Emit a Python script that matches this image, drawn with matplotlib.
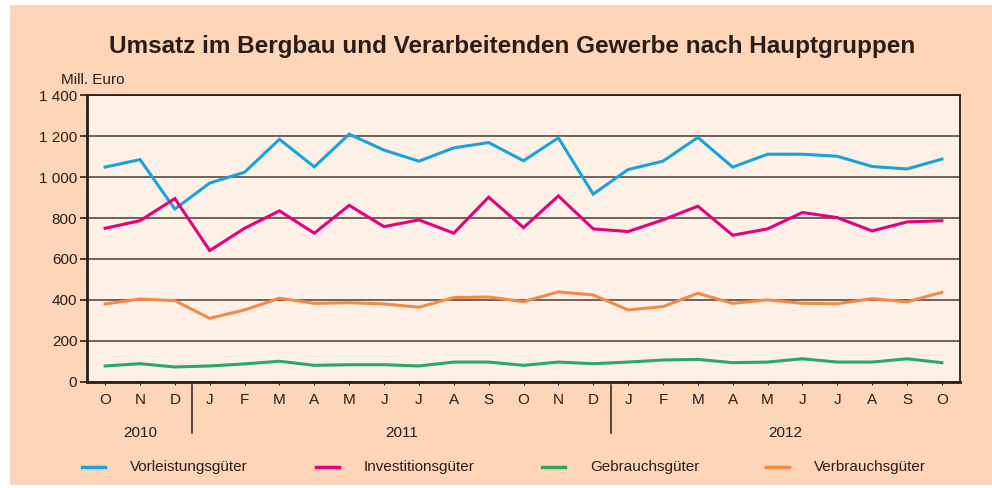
import matplotlib

matplotlib.use("Agg")
import matplotlib.pyplot as plt
from matplotlib.lines import Line2D
from matplotlib.patches import Rectangle

plt.rcParams["font.family"] = ["Liberation Sans", "DejaVu Sans"]

# Monthly turnover Oct 2010 - Oct 2012, million euro
months = ["O", "N", "D",
          "J", "F", "M", "A", "M", "J", "J", "A", "S", "O", "N", "D",
          "J", "F", "M", "A", "M", "J", "J", "A", "S", "O"]
years = ["2010", "2011", "2012"]
year_spans = [(0, 2), (3, 14), (15, 24)]

vorleistung = [1049, 1086, 844, 971, 1024, 1185, 1050, 1210, 1132, 1078, 1143, 1169,
               1080, 1192, 917, 1037, 1078, 1194, 1049, 1112, 1112, 1102, 1052, 1040, 1088]
investition = [750, 787, 895, 641, 750, 835, 726, 862, 758, 791, 726, 902,
               753, 908, 747, 734, 791, 858, 716, 747, 827, 802, 737, 781, 787]
gebrauch = [77, 88, 72, 77, 87, 100, 80, 83, 83, 77, 96, 96,
            80, 96, 88, 96, 106, 109, 93, 96, 112, 96, 96, 112, 93]
verbrauch = [380, 404, 396, 310, 351, 408, 383, 386, 380, 364, 411, 414,
             391, 439, 424, 351, 367, 432, 383, 400, 383, 381, 406, 390, 437]

series = [
    ("Vorleistungsgüter", vorleistung, "#1aa3d9"),
    ("Investitionsgüter", investition, "#e5007d"),
    ("Gebrauchsgüter", gebrauch, "#2aa866"),
    ("Verbrauchsgüter", verbrauch, "#f28a46"),
]

PEACH = "#fdd5b9"
INNER = "#fdf0e6"
DARK = "#2a1d17"

fig = plt.figure(figsize=(9.92, 4.88), dpi=100)
fig.patch.set_facecolor("white")
fig.add_artist(Rectangle((10 / 992, 0.006), 1 - 10 / 992, 1 - 0.006 - 5 / 488,
                         transform=fig.transFigure, facecolor=PEACH,
                         edgecolor="none", zorder=-10))

ax = fig.add_axes([87 / 992, 1 - 381.7 / 488, (960 - 87) / 992, (381.7 - 95.3) / 488])
ax.set_facecolor(INNER)

x = list(range(len(months)))
for name, vals, color in series:
    ax.plot(x, vals, color=color, lw=2.2, solid_joinstyle="miter", zorder=3)

ax.set_xlim(-0.52, 24.52)
ax.set_ylim(0, 1400)
yt = list(range(0, 1401, 200))
ax.set_yticks(yt)
ax.set_yticklabels([f"{v:,}".replace(",", " ") for v in yt], fontsize=11, color=DARK)
ax.grid(axis="y", color="#4a3a33", lw=1.1, zorder=1)
ax.set_axisbelow(True)

ax.set_xticks(x)
ax.set_xticklabels(months, fontsize=11, color=DARK)
ax.tick_params(axis="x", length=2, width=0.8, color=DARK, pad=6)
ax.tick_params(axis="y", length=5, width=1.2, color=DARK, pad=2)

for side in ["left", "bottom"]:
    ax.spines[side].set_linewidth(2)
    ax.spines[side].set_color(DARK)
for side in ["top", "right"]:
    ax.spines[side].set_linewidth(1.3)
    ax.spines[side].set_color(DARK)

# year separators and year labels below the month labels
trans = ax.get_xaxis_transform()
for i0, i1 in year_spans[1:]:
    ax.plot([i0 - 0.5, i0 - 0.5], [-0.01, -0.18], transform=trans, color=DARK,
            lw=1.1, clip_on=False)
for label, (i0, i1) in zip(years, year_spans):
    ax.text((i0 + i1) / 2, -0.18, label, transform=trans, ha="center", va="center",
            fontsize=11, color=DARK)

ax.text(-0.03, 1.03, "Mill. Euro", transform=ax.transAxes, fontsize=11,
        color=DARK, ha="left", va="bottom")

fig.text(0.516, 1 - 47 / 488, "Umsatz im Bergbau und Verarbeitenden Gewerbe nach Hauptgruppen",
         ha="center", va="center", fontsize=17.5, fontweight="bold", color=DARK)

# legend row
leg_x = [82, 316, 542, 766]
ly = 1 - 467 / 488
for (name, vals, color), lx in zip(series, leg_x):
    fig.add_artist(Line2D([lx / 992, (lx + 23) / 992], [ly, ly], color=color, lw=2.5,
                          transform=fig.transFigure))
    fig.text((lx + 48) / 992, ly, name, fontsize=11, color=DARK, ha="left", va="center")

fig.savefig("out.png", dpi=100, facecolor=fig.get_facecolor())
